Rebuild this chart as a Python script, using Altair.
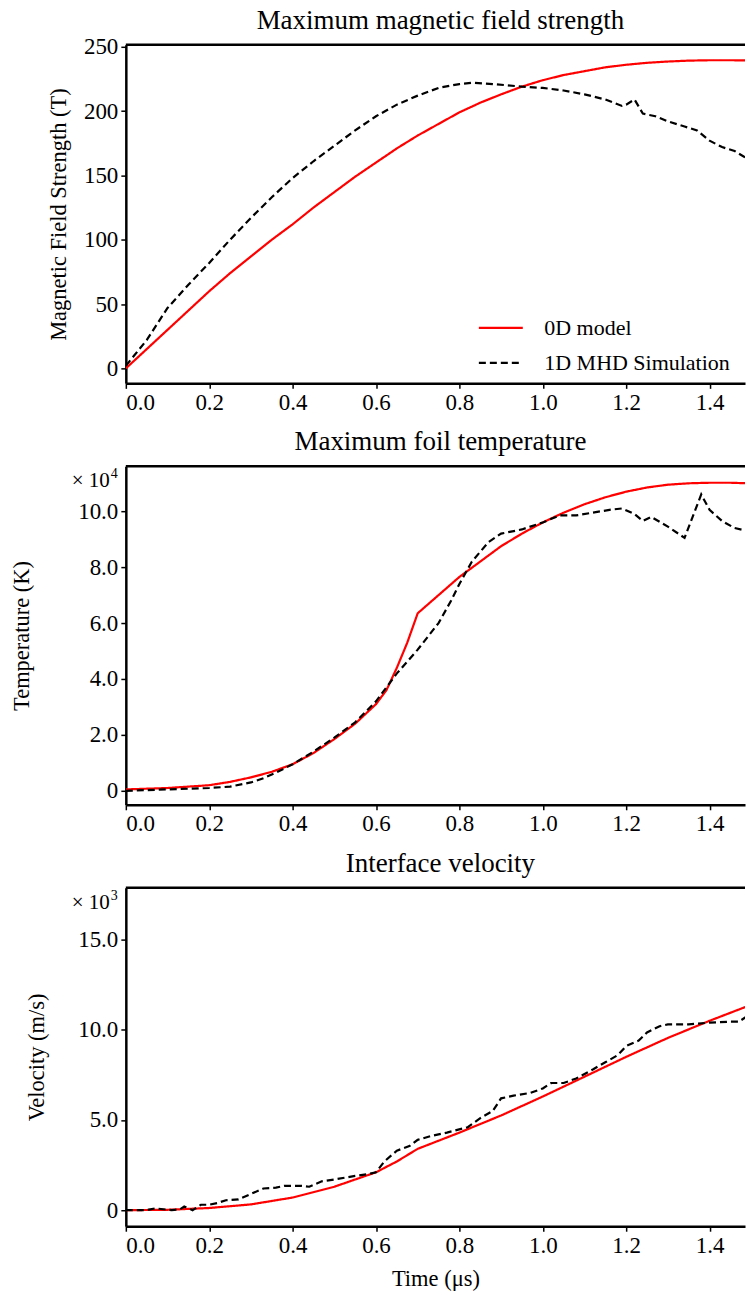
import altair as alt
import pandas as pd

FONT = "Liberation Serif"
W = 620
H = 339
X_MAX = 1.485
SERIES = ["0D model", "1D MHD Simulation"]

# ---- Panel 1: magnetic field strength (T) ----
t_B_model = [0.0, 0.05, 0.1, 0.15, 0.2, 0.25, 0.3, 0.35, 0.4, 0.45, 0.5, 0.55, 0.6, 0.65, 0.7,
             0.75, 0.8, 0.85, 0.9, 0.95, 1.0, 1.05, 1.1, 1.15, 1.2, 1.25, 1.3, 1.35, 1.4, 1.45, 1.49]
B_model = [0, 15, 30, 45, 60, 74, 87, 100, 112, 125, 137, 149, 160, 171, 181,
           190, 199, 206.5, 213, 219, 224, 228, 231, 234, 236, 237.5, 238.5, 239.2, 239.5, 239.5, 239.4]
t_B_mhd = [0.0, 0.02, 0.05, 0.1, 0.15, 0.2, 0.25, 0.3, 0.35, 0.4, 0.45, 0.5, 0.55, 0.6, 0.65,
           0.7, 0.75, 0.8, 0.83, 0.88, 0.95, 1.0, 1.05, 1.1, 1.15, 1.19, 1.2, 1.22, 1.24, 1.27,
           1.3, 1.34, 1.37, 1.4, 1.43, 1.46, 1.49]
B_mhd = [2, 10, 22, 47, 65, 82, 100, 117, 133, 148, 161, 173, 185, 196, 205,
         212, 218, 221, 222, 221, 219, 218, 216, 213, 209, 204, 205, 209, 198, 196,
         192, 188, 185, 177, 172, 169, 163]

# ---- Panel 2: foil temperature (x 1e4 K) ----
t_T_model = [0.0, 0.1, 0.2, 0.25, 0.3, 0.35, 0.4, 0.45, 0.5, 0.55, 0.6, 0.625, 0.65, 0.675, 0.7,
             0.75, 0.8, 0.85, 0.9, 0.95, 1.0, 1.05, 1.1, 1.15, 1.2, 1.25, 1.3, 1.35, 1.4, 1.45, 1.49]
T_model = [0.05, 0.1, 0.2, 0.32, 0.48, 0.68, 0.95, 1.35, 1.85, 2.4, 3.1, 3.6, 4.4, 5.3, 6.35,
           7.0, 7.65, 8.2, 8.75, 9.2, 9.6, 9.95, 10.25, 10.5, 10.7, 10.85, 10.95, 11.0, 11.02, 11.02, 11.0]
t_T_mhd = [0.0, 0.1, 0.2, 0.25, 0.3, 0.33, 0.36, 0.4, 0.45, 0.5, 0.55, 0.6, 0.65, 0.7, 0.75,
           0.78, 0.8, 0.83, 0.87, 0.9, 0.95, 1.0, 1.04, 1.08, 1.12, 1.16, 1.19, 1.22, 1.24, 1.26,
           1.3, 1.34, 1.38, 1.4, 1.43, 1.46, 1.49]
T_mhd = [0.0, 0.05, 0.1, 0.15, 0.3, 0.45, 0.65, 0.95, 1.4, 1.9, 2.45, 3.2, 4.2, 5.05, 6.0,
         6.8, 7.4, 8.2, 8.9, 9.2, 9.35, 9.6, 9.85, 9.85, 9.95, 10.05, 10.1, 9.9, 9.65, 9.8,
         9.45, 9.05, 10.6, 10.05, 9.65, 9.4, 9.3]

# ---- Panel 3: interface velocity (x 1e3 m/s) ----
t_V_model = [0.0, 0.1, 0.2, 0.3, 0.4, 0.5, 0.6, 0.65, 0.7, 0.75, 0.8, 0.9, 1.0, 1.1, 1.2, 1.3, 1.4, 1.49]
V_model = [0.0, 0.02, 0.12, 0.32, 0.7, 1.3, 2.1, 2.7, 3.4, 3.85, 4.3, 5.25, 6.3, 7.4, 8.5, 9.55, 10.5, 11.3]
t_V_mhd = [0.0, 0.05, 0.07, 0.09, 0.11, 0.13, 0.14, 0.16, 0.18, 0.2, 0.22, 0.24, 0.27, 0.3, 0.33,
           0.36, 0.38, 0.42, 0.44, 0.47, 0.5, 0.55, 0.58, 0.6, 0.62, 0.65, 0.68, 0.7, 0.73, 0.77,
           0.82, 0.85, 0.88, 0.9, 0.93, 0.97, 1.0, 1.02, 1.05, 1.08, 1.12, 1.15, 1.18, 1.2, 1.23,
           1.25, 1.28, 1.3, 1.35, 1.4, 1.45, 1.47, 1.49]
V_mhd = [0.0, 0.0, 0.1, 0.05, 0.0, 0.05, 0.2, 0.0, 0.3, 0.3, 0.4, 0.55, 0.6, 0.9, 1.2,
         1.25, 1.35, 1.35, 1.3, 1.6, 1.7, 1.9, 2.0, 2.1, 2.7, 3.3, 3.55, 3.9, 4.1, 4.3,
         4.6, 5.1, 5.5, 6.2, 6.35, 6.5, 6.75, 7.05, 7.05, 7.3, 7.8, 8.2, 8.6, 9.1, 9.4,
         9.85, 10.2, 10.3, 10.3, 10.4, 10.45, 10.45, 10.75]

X_TICKS = [0.0, 0.2, 0.4, 0.6, 0.8, 1.0, 1.2, 1.4]


def frame(t0, v0, t1, v1):
    return pd.DataFrame({
        "t": t0 + t1,
        "v": v0 + v1,
        "series": [SERIES[0]] * len(t0) + [SERIES[1]] * len(t1),
    })


def one_row():
    return pd.DataFrame({"a": [0]})


def panel(df, title, ydomain, yvalues, label_expr, ytitle, ytitle_x,
          xtitle=None, legend=False, exponent=None):
    x_axis = alt.Axis(values=X_TICKS, format=".1f", title=xtitle, titlePadding=10)
    x = alt.X("t:Q", scale=alt.Scale(domain=[0, X_MAX], nice=False, zero=False), axis=x_axis)
    y = alt.Y("v:Q", scale=alt.Scale(domain=ydomain, nice=False, zero=False),
              axis=alt.Axis(values=yvalues, labelExpr=label_expr, title=ytitle,
                            titleX=ytitle_x, titleY=H / 2, titleAngle=-90,
                            titleAlign="center", titleBaseline="middle"))
    if legend:
        leg = alt.Legend(title=None, orient="none", legendX=352, legendY=260,
                         symbolType="stroke", symbolSize=1936, symbolStrokeWidth=2.2,
                         labelFont=FONT, labelFontSize=22, labelColor="black",
                         labelOffset=20, labelLimit=400, rowPadding=-9, padding=0)
    else:
        leg = None
    color = alt.Color("series:N", scale=alt.Scale(domain=SERIES, range=["#ff0000", "#000000"]),
                      legend=leg)
    dash = alt.StrokeDash("series:N", scale=alt.Scale(domain=SERIES, range=[[1, 0], [7, 4]]),
                          legend=leg)
    lines = alt.Chart(df).mark_line(clip=True, strokeWidth=2.2).encode(
        x=x, y=y, color=color, strokeDash=dash)
    border = alt.Chart(one_row()).mark_rule(color="black", strokeWidth=2.5).encode(
        x=alt.value(0), x2=alt.value(W), y=alt.value(0))
    ttl = alt.Chart(one_row()).mark_text(
        font=FONT, fontSize=27, align="center", baseline="alphabetic", color="black", text=title
    ).encode(x=alt.value(W / 2 + 5), y=alt.value(-16))
    layers = [lines, border, ttl]
    if exponent:
        base = alt.Chart(one_row()).mark_text(
            font=FONT, fontSize=21, align="right", baseline="middle", color="black", text="× 10"
        ).encode(x=alt.value(-16), y=alt.value(15))
        sup = alt.Chart(one_row()).mark_text(
            font=FONT, fontSize=14, align="left", baseline="middle", color="black", text=exponent
        ).encode(x=alt.value(-15), y=alt.value(8))
        layers += [base, sup]
    return alt.layer(*layers).properties(width=W, height=H)


p1 = panel(frame(t_B_model, B_model, t_B_mhd, B_mhd), "Maximum magnetic field strength",
           [-11.6, 251.5], [0, 50, 100, 150, 200, 250], "format(datum.value, 'd')",
           "Magnetic Field Strength (T)", -67, legend=True)
p2 = panel(frame(t_T_model, T_model, t_T_mhd, T_mhd), "Maximum foil temperature",
           [-0.5, 11.61], [0, 2, 4, 6, 8, 10],
           "datum.value == 0 ? '0' : format(datum.value, '.1f')",
           "Temperature (K)", -104, exponent="4")
p3 = panel(frame(t_V_model, V_model, t_V_mhd, V_mhd), "Interface velocity",
           [-0.89, 17.88], [0, 5, 10, 15],
           "datum.value == 0 ? '0' : format(datum.value, '.1f')",
           "Velocity (m/s)", -89, xtitle="Time (μs)", exponent="3")

chart = alt.VConcatChart(vconcat=[p1, p2, p3], spacing=83, bounds="flush").resolve_legend(
    color="independent", strokeDash="independent"
).properties(
    padding={"left": 11, "top": 6, "right": 0, "bottom": 0},
    background="white",
).configure_view(stroke=None).configure_axis(
    grid=False, domainColor="black", domainWidth=2.5, tickColor="black", tickWidth=1.5,
    tickSize=5, labelFont=FONT, labelFontSize=23, labelColor="black", labelPadding=3,
    titleFont=FONT, titleFontSize=22.5, titleFontWeight="normal", titleColor="black",
)

chart.save("out.html", embed_options={"renderer": "svg", "actions": False})
